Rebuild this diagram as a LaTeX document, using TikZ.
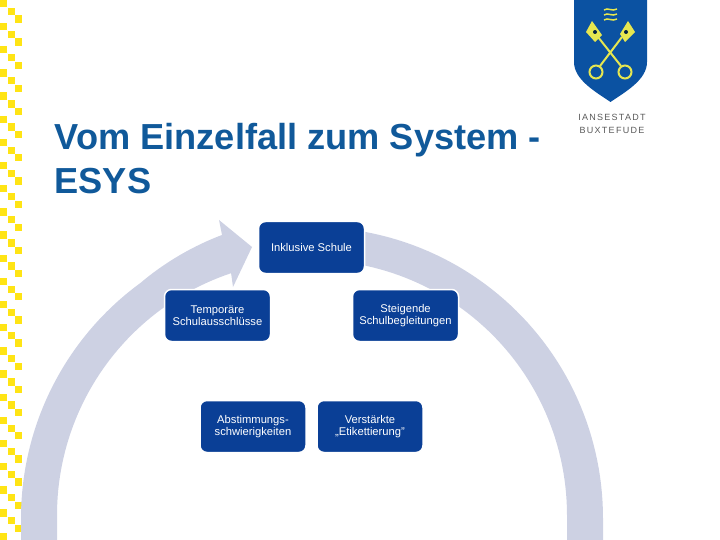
\documentclass[tikz,border=0pt]{standalone}
\usepackage{fontspec}
\setmainfont{Liberation Sans}
\usetikzlibrary{calc}
\definecolor{ringc}{HTML}{CDD1E3}
\definecolor{boxc}{HTML}{0A3F96}
\definecolor{titlec}{HTML}{10599A}
\definecolor{checkc}{HTML}{FFE414}
\definecolor{shieldc}{HTML}{0B52A2}
\definecolor{keyc}{HTML}{E6E650}
\tikzset{x=1pt,y=-1pt,
 flow/.style={draw=white,line width=1.5pt,fill=boxc,rounded corners=7pt,minimum width=106pt,minimum height=52pt,text=white,align=center,font=\fontsize{11.2}{12}\selectfont,inner sep=0pt},
 ttl/.style={text=titlec,anchor=base west,inner sep=0pt,font=\bfseries\fontsize{36.2}{44}\selectfont},
 chk/.style={fill=checkc,draw=none},
 key/.style={draw=keyc,line width=2pt,fill=none},
 lg/.style={text=black!65,inner sep=0pt,font=\addfontfeature{LetterSpace=14}\fontsize{9}{10}\selectfont}}
\begin{document}
\begin{tikzpicture}
\useasboundingbox (0,0) rectangle (720,540);
% checker border
\foreach \k in {0,...,23}{
 \pgfmathsetmacro{\yy}{-0.16+23.16*\k}
 \fill[chk] (0,\yy) rectangle +(7,7.3);
 \fill[chk] (8,\yy+7.8) rectangle +(7,7.3);
 \fill[chk] (15,\yy+15.4) rectangle +(7,7.3);
}
% ring, left part with arrowhead
\fill[ringc] (21,540) -- plot[domain=180:126,samples=50] ({312+291*cos(\x)},{518-291*sin(\x)})
  .. controls (165,262) and (195,245) .. (222,235) -- (219,220) -- (252,247) -- (233,287) -- plot[domain=108.5:180,samples=50] ({312+255*cos(\x)},{515-255*sin(\x)}) -- (57,540) -- cycle;
% ring, right part
\fill[ringc] plot[domain=79.5:0,samples=50] ({312+291*cos(\x)},{518-291*sin(\x)}) -- (603,540) -- (567,540)
  -- plot[domain=0:78,samples=50] ({312+255*cos(\x)},{515-255*sin(\x)}) -- cycle;
% title
\node[ttl] (t1) at (54.5,149.5) {Vom Einzelfall zum System -};
\node[ttl] (t2) at (54.5,193.5) {ESYS};
% boxes
\node[flow] (a) at (311.5,247.5) {Inklusive Schule};
\node[flow] (b) at (217.5,315.5) {Temporäre\\Schulausschlüsse};
\node[flow] (c) at (405.5,315.5) {Steigende\\Schulbegleitungen};
\node[flow] (d) at (253,426.5) {Abstimmungs-\\schwierigkeiten};
\node[flow] (e) at (370,426.5) {Verstärkte\\„Etikettierung"};
% logo
\fill[shieldc] (574,0) -- (647,0) -- (647,62) .. controls (647,80) and (625,92) .. (610.5,102) .. controls (596,92) and (574,80) .. (574,62) -- cycle;
\draw[key] (600,66) -- (622,37) (621,66) -- (598,37);
\draw[key] (596,72) circle[radius=6.5];
\draw[key] (625,72) circle[radius=6.5];
\fill[keyc] (586,32) -- (592,21) -- (602,35) -- (595,42) -- cycle;
\fill[keyc] (635,32) -- (628,21) -- (620,34) -- (625,42) -- cycle;
\fill[shieldc!40!black] (595,32) circle[radius=2];
\fill[shieldc!40!black] (626,32) circle[radius=2];
\draw[draw=keyc,line width=1.5pt] (604,10) .. controls (608,7) and (612,12) .. (617,9)
  (604,15) .. controls (608,12) and (612,17) .. (617,14)
  (604,20) .. controls (608,17) and (612,22) .. (617,19);
\node[lg] (l1) at (612,117) {IANSESTADT};
\node[lg] (l2) at (612,130) {BUXTEFUDE};
\end{tikzpicture}
\end{document}
